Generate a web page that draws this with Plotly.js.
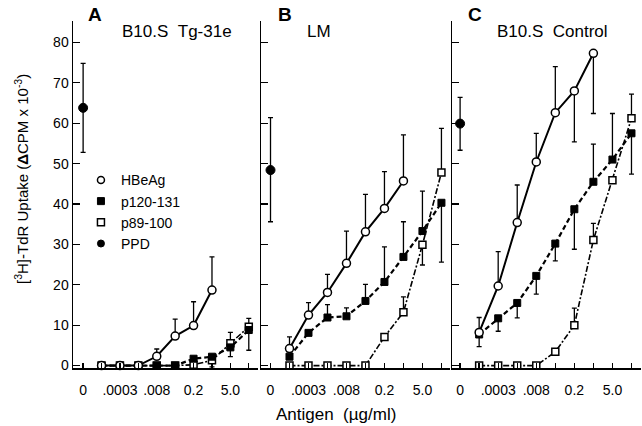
<!DOCTYPE html>
<html>
<head>
<meta charset="utf-8">
<script src="https://cdn.plot.ly/plotly-3.0.1.min.js"></script>
<style>html,body{margin:0;padding:0;background:#fff}</style>
</head>
<body>
<div id="chart" style="width:642px;height:426px"></div>
<script>
// Concentrations (µg/ml) at 5-fold steps; position 0 is the "0" (no antigen / PPD) slot
const doses = ['.00006', '.0003', '.0016', '.008', '.04', '0.2', '1', '5.0', '25'];
const tickVals = [0, 2, 4, 6, 8];
const tickLabels = ['0', '.0003', '.008', '0.2', '5.0'];

// Panel A: B10.S Tg-31e
const A_HBeAg = [0, 0, 0, 2.3, 7.3, 9.9, 18.7];
const A_HBeAg_up = [0, 0, 0, 1.8, 4.2, 5.9, 8.2];
const A_HBeAg_dn = [0, 0, 0, 0, 0, 0, 0];
const A_p120 = [0, 0, 0, 0, 0, 1.7, 2.2, 4.5, 8.8];
const A_p120_up = [0, 0, 0, 0, 0, 0, 0, 0, 0];
const A_p120_dn = [0, 0, 0, 0, 0, 0, 0, 2.3, 5.0];
const A_p89 = [0, 0, 0, 0, 0, 0.2, 1.3, 5.5, 9.6];
const A_p89_up = [0, 0, 0, 0, 0, 0, 0, 2.7, 2.1];
const A_p89_dn = [0, 0, 0, 0, 0, 0, 1.6, 0, 0];
const A_PPD = [63.8];
const A_PPD_up = [11];
const A_PPD_dn = [11];

// Panel B: LM
const B_HBeAg = [4.2, 12.5, 18.1, 25.3, 33.1, 38.9, 45.7];
const B_HBeAg_up = [2.9, 3.1, 4.5, 8.0, 9.3, 9.1, 11.4];
const B_HBeAg_dn = [0, 0, 0, 0, 0, 0, 0];
const B_p120 = [2.2, 8.1, 11.9, 12.2, 16.0, 20.7, 26.9, 33.3, 40.3];
const B_p120_up = [0, 0, 3.2, 2.1, 4.1, 8.7, 8.7, 9.9, 0];
const B_p120_dn = [0, 0, 0, 0, 0, 0, 0, 0, 14.7];
const B_p89 = [0, 0, 0, 0, 0, 7.1, 13.2, 29.9, 47.8];
const B_p89_up = [0, 0, 0, 0, 0, 0, 3.8, 0, 10.9];
const B_p89_dn = [0, 0, 0, 0, 0, 0, 0, 5.0, 0];
const B_PPD = [48.4];
const B_PPD_up = [13];
const B_PPD_dn = [12.8];

// Panel C: B10.S Control
const C_HBeAg = [8.2, 19.7, 35.4, 50.4, 62.6, 68.0, 77.3];
const C_HBeAg_up = [3.7, 8.5, 9.3, 7.1, 11.4, 0, 0];
const C_HBeAg_dn = [0, 0, 0, 0, 0, 12.6, 14.9];
const C_p120 = [7.7, 11.7, 15.5, 22.2, 30.2, 38.7, 45.5, 51.0, 57.5];
const C_p120_up = [0, 0, 0, 0, 0, 0, 9.3, 11.4, 0];
const C_p120_dn = [3.0, 3.2, 3.7, 4.5, 4.3, 9.9, 0, 0, 10.1];
const C_p89 = [0, 0, 0, 0, 3.4, 10.0, 31.1, 45.9, 61.2];
const C_p89_up = [0, 0, 0, 0, 0, 4.2, 4.1, 0, 6.0];
const C_p89_dn = [0, 0, 0, 0, 0, 0, 0, 0, 0];
const C_PPD = [59.9];
const C_PPD_up = [6.5];
const C_PPD_dn = [6.6];

const seriesNames = ['HBeAg', 'p120-131', 'p89-100', 'PPD'];

const doseX = (arr) => arr.map((v, i) => i + 1);   // dose index positions
const err = (up, dn) => ({type: 'data', symmetric: false, array: up, arrayminus: dn,
  color: 'black', thickness: 1.3, width: 2.5});

const styles = {
  'HBeAg': {line: {color: 'black', width: 2, dash: 'solid'},
            marker: {symbol: 'circle', size: 8, color: 'white', line: {color: 'black', width: 1.5}}},
  'p120-131': {line: {color: 'black', width: 2.2, dash: '5px,3px'},
            marker: {symbol: 'square', size: 7, color: 'black', line: {color: 'black', width: 1}}},
  'p89-100': {line: {color: 'black', width: 1.6, dash: '6px,2px,2px,2px'},
            marker: {symbol: 'square', size: 7, color: 'white', line: {color: 'black', width: 1.5}}},
  'PPD': {marker: {symbol: 'circle', size: 9, color: 'black', line: {color: 'black', width: 1}}}
};

const traces = [];
function panel(xa, ya, h, hu, hd, q, qu, qd, o, ou, od, p, pu, pd) {
  traces.push({x: doseX(o), y: o, xaxis: xa, yaxis: ya, mode: 'lines+markers', showlegend: false,
    line: styles['p89-100'].line, marker: styles['p89-100'].marker, error_y: err(ou, od), cliponaxis: false});
  traces.push({x: doseX(q), y: q, xaxis: xa, yaxis: ya, mode: 'lines+markers', showlegend: false,
    line: styles['p120-131'].line, marker: styles['p120-131'].marker, error_y: err(qu, qd), cliponaxis: false});
  traces.push({x: doseX(h), y: h, xaxis: xa, yaxis: ya, mode: 'lines+markers', showlegend: false,
    line: styles['HBeAg'].line, marker: styles['HBeAg'].marker, error_y: err(hu, hd), cliponaxis: false});
  traces.push({x: p.map(() => 0), y: p, xaxis: xa, yaxis: ya, mode: 'markers', showlegend: false,
    marker: styles['PPD'].marker, error_y: err(pu, pd), cliponaxis: false});
}
panel('x', 'y', A_HBeAg, A_HBeAg_up, A_HBeAg_dn, A_p120, A_p120_up, A_p120_dn, A_p89, A_p89_up, A_p89_dn, A_PPD, A_PPD_up, A_PPD_dn);
panel('x2', 'y2', B_HBeAg, B_HBeAg_up, B_HBeAg_dn, B_p120, B_p120_up, B_p120_dn, B_p89, B_p89_up, B_p89_dn, B_PPD, B_PPD_up, B_PPD_dn);
panel('x3', 'y3', C_HBeAg, C_HBeAg_up, C_HBeAg_dn, C_p120, C_p120_up, C_p120_dn, C_p89, C_p89_up, C_p89_dn, C_PPD, C_PPD_up, C_PPD_dn);

// legend-only entries (markers only, as in the reference key)
seriesNames.forEach(n => {
  traces.push({x: [null], y: [null], xaxis: 'x', yaxis: 'y', mode: 'markers', name: n,
    marker: Object.assign({}, styles[n].marker, {size: 7}), showlegend: true});
});

const xCommon = {showline: true, linecolor: 'black', linewidth: 1.5, ticks: 'inside', ticklen: 5,
  tickwidth: 1.3, tickcolor: 'black', tickvals: tickVals, ticktext: tickLabels, showgrid: false,
  minor: {ticks: 'inside', ticklen: 5, tickwidth: 1.3, tickcolor: 'black', tick0: 0, dtick: 1, showgrid: false},
  zeroline: false, ticklabelstandoff: 9, fixedrange: true, tickfont: {size: 14}};
const yCommon = {showline: true, linecolor: 'black', linewidth: 1.5, ticks: 'inside', ticklen: 7,
  tickwidth: 1.3, tickcolor: 'black', tickvals: [0, 10, 20, 30, 40, 50, 60, 70, 80], showgrid: false,
  zeroline: false, range: [-0.6, 85.3], fixedrange: true, tickfont: {size: 14}};

const NB = '\u00a0';
const layout = {
  width: 642, height: 426,
  margin: {l: 73, r: 1, t: 21, b: 58},
  paper_bgcolor: 'white', plot_bgcolor: 'white',
  font: {family: 'Liberation Sans, Arial, Helvetica, sans-serif', size: 14, color: 'black'},
  showlegend: true,
  legend: {x: 0.014, y: 0.587, xanchor: 'left', yanchor: 'top', font: {size: 14},
    bgcolor: 'rgba(0,0,0,0)', borderwidth: 0, tracegroupgap: 0, itemwidth: 30},
  xaxis: Object.assign({}, xCommon, {domain: [0, 0.3257], range: [-0.55, 9.5], anchor: 'y'}),
  xaxis2: Object.assign({}, xCommon, {domain: [0.331, 0.6637], range: [-0.5, 9.45], anchor: 'y2'}),
  xaxis3: Object.assign({}, xCommon, {domain: [0.6681, 1], range: [-0.4, 9.5], anchor: 'y3'}),
  yaxis: Object.assign({}, yCommon, {anchor: 'x', showticklabels: true}),
  yaxis2: Object.assign({}, yCommon, {anchor: 'x2', showticklabels: false}),
  yaxis3: Object.assign({}, yCommon, {anchor: 'x3', showticklabels: false}),
  annotations: [
    {text: '<b>A</b>', xref: 'paper', yref: 'paper', x: 0.0387, y: 1.019, showarrow: false, font: {size: 19}, xanchor: 'center', yanchor: 'middle'},
    {text: '<b>B</b>', xref: 'paper', yref: 'paper', x: 0.3733, y: 1.019, showarrow: false, font: {size: 19}, xanchor: 'center', yanchor: 'middle'},
    {text: '<b>C</b>', xref: 'paper', yref: 'paper', x: 0.7077, y: 1.019, showarrow: false, font: {size: 19}, xanchor: 'center', yanchor: 'middle'},
    {text: 'B10.S' + NB + NB + 'Tg-31e', xref: 'paper', yref: 'paper', x: 0.0827, y: 0.971, showarrow: false, font: {size: 17}, xanchor: 'left', yanchor: 'middle'},
    {text: 'LM', xref: 'paper', yref: 'paper', x: 0.4085, y: 0.971, showarrow: false, font: {size: 17}, xanchor: 'left', yanchor: 'middle'},
    {text: 'B10.S' + NB + NB + 'Control', xref: 'paper', yref: 'paper', x: 0.7430, y: 0.971, showarrow: false, font: {size: 17}, xanchor: 'left', yanchor: 'middle'},
    {text: 'Antigen' + NB + NB + '(µg/ml)', xref: 'paper', yref: 'paper', x: 0.463, y: -0.133, showarrow: false, font: {size: 17}, xanchor: 'center', yanchor: 'middle'},
    {text: '[<sup>3</sup>H]-TdR Uptake (<b>Δ</b>CPM x 10<sup>-3</sup>)', xref: 'paper', yref: 'paper', x: -0.0898, y: 0.5447, textangle: -90, showarrow: false, font: {size: 15}, xanchor: 'center', yanchor: 'middle'}
  ]
};

Plotly.newPlot('chart', traces, layout, {displayModeBar: false, staticPlot: true});
</script>
</body>
</html>
